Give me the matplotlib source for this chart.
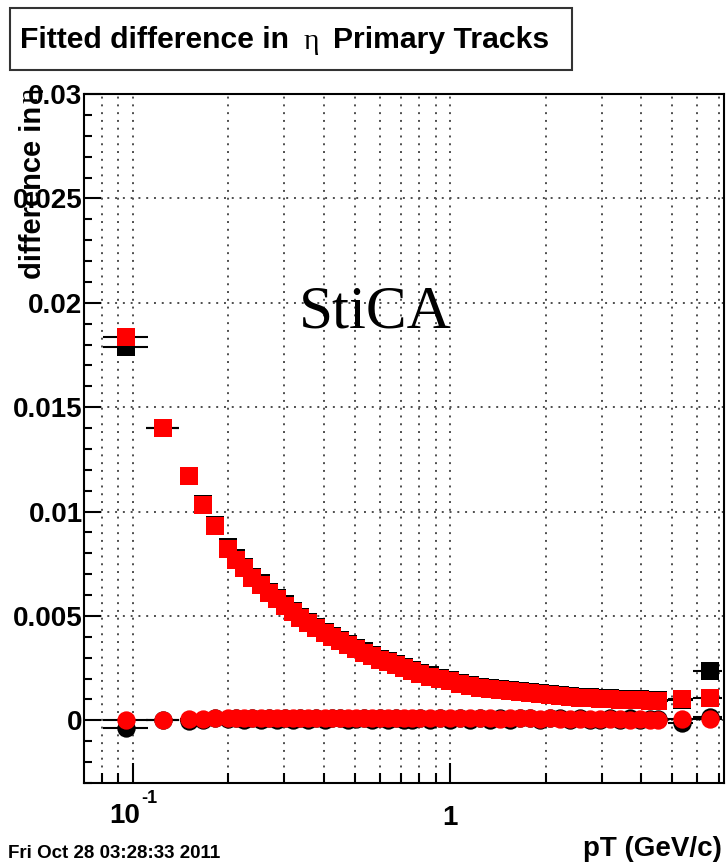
import matplotlib

matplotlib.use("Agg")
from matplotlib import pyplot as plt
from matplotlib.patches import Rectangle
from matplotlib.ticker import FixedLocator, LogLocator, MultipleLocator, NullFormatter

W, H = 728, 867

pt = [
    0.095, 0.125, 0.150, 0.166, 0.182,
    0.200, 0.212, 0.225, 0.238, 0.253, 0.268, 0.284, 0.301, 0.319, 0.337,
    0.357, 0.379, 0.402, 0.425, 0.451, 0.478, 0.506, 0.537, 0.569, 0.603,
    0.638, 0.676, 0.717, 0.760, 0.805, 0.865, 0.930, 1.000, 1.075, 1.156,
    1.243, 1.336, 1.436, 1.544, 1.660, 1.784, 1.918, 2.062, 2.216, 2.383,
    2.562, 2.754, 2.960, 3.182, 3.421, 3.678, 3.953, 4.250, 4.510, 5.350, 6.560,
]
sigma_red = [
    0.01838, 0.0140, 0.0117, 0.0103, 0.0093,
    0.0082, 0.0077, 0.0073, 0.0068, 0.0065, 0.0061, 0.0058, 0.0055, 0.0052, 0.0049,
    0.00465, 0.0044, 0.0042, 0.0040, 0.0038, 0.0036, 0.0034, 0.00325, 0.0031, 0.0029,
    0.0028, 0.00265, 0.0025, 0.00236, 0.00222, 0.0021, 0.00198, 0.00187, 0.00176, 0.00166,
    0.00157, 0.0015, 0.00144, 0.00139, 0.00134, 0.0013, 0.00125, 0.0012, 0.00115, 0.0011,
    0.00108, 0.00105, 0.00103, 0.0010, 0.00098, 0.00097, 0.00096, 0.00095, 0.00095, 0.0010, 0.00105,
]
sigma_black = [
    0.0179, 0.0140, 0.0117, 0.01036, 0.00935,
    0.00828, 0.00776, 0.00736, 0.00686, 0.00656, 0.00616, 0.00586, 0.00556, 0.00526, 0.00496,
    0.0047, 0.00446, 0.00425, 0.00405, 0.00385, 0.00365, 0.00345, 0.0033, 0.00315, 0.00295,
    0.00285, 0.0027, 0.00255, 0.00241, 0.00227, 0.00215, 0.00203, 0.00192, 0.00181, 0.0017,
    0.00162, 0.00155, 0.00149, 0.00144, 0.00139, 0.00134, 0.0013, 0.00125, 0.0012, 0.00115,
    0.00113, 0.0011, 0.00108, 0.00105, 0.00102, 0.00101, 0.001, 0.00099, 0.00096, 0.00098, 0.00237,
]
mean_red = [
    0.00003, 0.00003, 0.00005, 0.00008, 0.0001,
    0.0001, 0.00012, 0.0001, 0.00012, 0.0001, 0.00012, 0.0001, 0.00011, 0.0001, 0.00012,
    0.0001, 0.00011, 0.0001, 0.00012, 0.0001, 0.0001, 0.00011, 0.0001, 0.00012, 0.0001,
    0.0001, 0.00011, 0.0001, 0.0001, 0.00012, 0.0001, 0.0001, 0.00011, 0.0001, 0.0001,
    0.00009, 0.0001, 0.00008, 0.0001, 0.00009, 0.0001, 0.00008, 0.00009, 0.00008, 0.00007,
    0.00008, 0.00006, 0.00007, 0.00005, 0.00006, 0.00004, 0.00005, 0.00003, 0.00003, 0.00008, 0.00005,
]
mean_black = [
    -0.00035, 0.00003, -0.00002, 0.00004, 0.0001,
    0.00005, 0.00012, 0.00004, 0.00012, 0.00003, 0.0001, 0.00002, 0.00011, 0.00004, 0.00012,
    0.00004, 0.00011, 0.00002, 0.0001, 0.0001, 0.00003, 0.00005, 0.0001, 0.00004, 0.0001,
    0.00002, 0.00011, 0.00004, 0.00003, 0.00012, 0.00003, 0.0001, 0.00004, 0.0001, 0.00002,
    0.00009, 0.00003, 0.0001, 0.00004, 0.00009, 0.00012, 0.00002, 0.00009, 0.00012, 0.00002,
    0.00012, 0.00004, 0.00002, 0.00011, 0.00003, 0.00012, 0.0, 0.00008, 0.00008, -0.00012, 0.00016,
]
err_index = [0, 1, 2, 53, 54, 55]
bin_lo = [0.0805, 0.110, 0.1405, 4.20, 4.85, 5.80]
bin_hi = [0.1115, 0.140, 0.161, 4.85, 5.80, 7.20]

y_ticks = [0, 0.005, 0.01, 0.015, 0.02, 0.025, 0.03]
y_labels = ["0", "0.005", "0.01", "0.015", "0.02", "0.025", "0.03"]
x_ticks = [0.1, 1]
x_labels = ["", "1"]

plt.rcParams["font.family"] = ["Liberation Sans", "DejaVu Sans"]
plt.rcParams["font.weight"] = "bold"

fig = plt.figure(figsize=(W / 100, H / 100), dpi=100)
ax = fig.add_axes([84 / W, 1 - 783 / H, 640 / W, 689 / H])

ms = 13.2
for sig, mean, color in [(sigma_black, mean_black, "black"), (sigma_red, mean_red, "#ff0000")]:
    for series in (sig, mean):
        xs = [pt[i] for i in err_index]
        ys = [series[i] for i in err_index]
        lo = [pt[i] - b for i, b in zip(err_index, bin_lo)]
        hi = [b - pt[i] for i, b in zip(err_index, bin_hi)]
        ax.errorbar(xs, ys, xerr=[lo, hi], fmt="none", ecolor="black",
                    elinewidth=1.5, capsize=0, zorder=2)
    ax.plot(pt, sig, "s", color=color, markersize=ms, markeredgewidth=0, zorder=3)
    ax.plot(pt, mean, "o", color=color, markersize=ms, markeredgewidth=0, zorder=3)

ax.set_xscale("log")
ax.set_xlim(0.0703, 7.28)
ax.set_ylim(-0.003, 0.03)

ax.xaxis.set_major_locator(FixedLocator(x_ticks))
ax.set_xticklabels(x_labels)
ax.xaxis.set_minor_locator(LogLocator(base=10, subs=[2, 3, 4, 5, 6, 7, 8, 9]))
ax.xaxis.set_minor_formatter(NullFormatter())
ax.yaxis.set_major_locator(FixedLocator(y_ticks))
ax.set_yticklabels(y_labels)
ax.yaxis.set_minor_locator(MultipleLocator(0.001))

ax.tick_params(axis="both", which="both", direction="in", top=False, right=False,
               width=1.5, color="black", labelsize=20)
ax.tick_params(axis="y", which="major", length=12, pad=1)
ax.tick_params(axis="y", which="minor", length=6)
ax.tick_params(axis="x", which="major", length=14.5, pad=16)
ax.tick_params(axis="x", which="minor", length=7.2)

# ROOT style 10^-1 label: "10" with a small raised exponent, centred as a whole on the tick
ax.annotate("10", xy=(x_ticks[0], 0), xycoords=("data", "axes fraction"), xytext=(-5.5, -23.5),
            textcoords="offset points", fontsize=20, ha="center", va="center")
ax.annotate("-1", xy=(x_ticks[0], 0), xycoords=("data", "axes fraction"), xytext=(6, -11.5),
            textcoords="offset points", fontsize=13, ha="left", va="center")

grid_style = dict(color="0.3", linestyle=(0, (1, 3)), linewidth=1.4)
ax.grid(True, which="major", axis="y", **grid_style)
ax.grid(True, which="both", axis="x", **grid_style)
ax.set_axisbelow(True)
for spine in ax.spines.values():
    spine.set_linewidth(1.5)

fig.text(375 / W, 1 - 313 / H, "StiCA", family="Liberation Serif", weight="normal",
         fontsize=44, ha="center", va="center")

# title box
fig.patches.append(Rectangle((10 / W, 1 - 70 / H), 562 / W, 62 / H, transform=fig.transFigure,
                             facecolor="white", edgecolor="0.2", linewidth=1.5))
fig.text(20 / W, 1 - 40 / H, "Fitted difference in", fontsize=21.7, ha="left", va="center")
fig.text(311 / W, 1 - 42 / H, "η", family="Liberation Serif", weight="normal",
         fontsize=21.5, ha="center", va="center")
fig.text(333 / W, 1 - 40 / H, "Primary Tracks", fontsize=21.7, ha="left", va="center")

# axis titles
fig.text(33 / W, 1 - 106 / H, "difference in", fontsize=21, rotation=90, ha="center", va="top")
fig.text(31 / W, 1 - 95 / H, "η", family="Liberation Serif", weight="normal",
         fontsize=21, rotation=90, ha="center", va="center")
fig.text(722 / W, 1 - 849 / H, "pT (GeV/c)", fontsize=20, ha="right", va="center")
fig.text(8 / W, 1 - 853 / H, "Fri Oct 28 03:28:33 2011", fontsize=13.5, ha="left", va="center")

fig.savefig("out.png", dpi=100)
